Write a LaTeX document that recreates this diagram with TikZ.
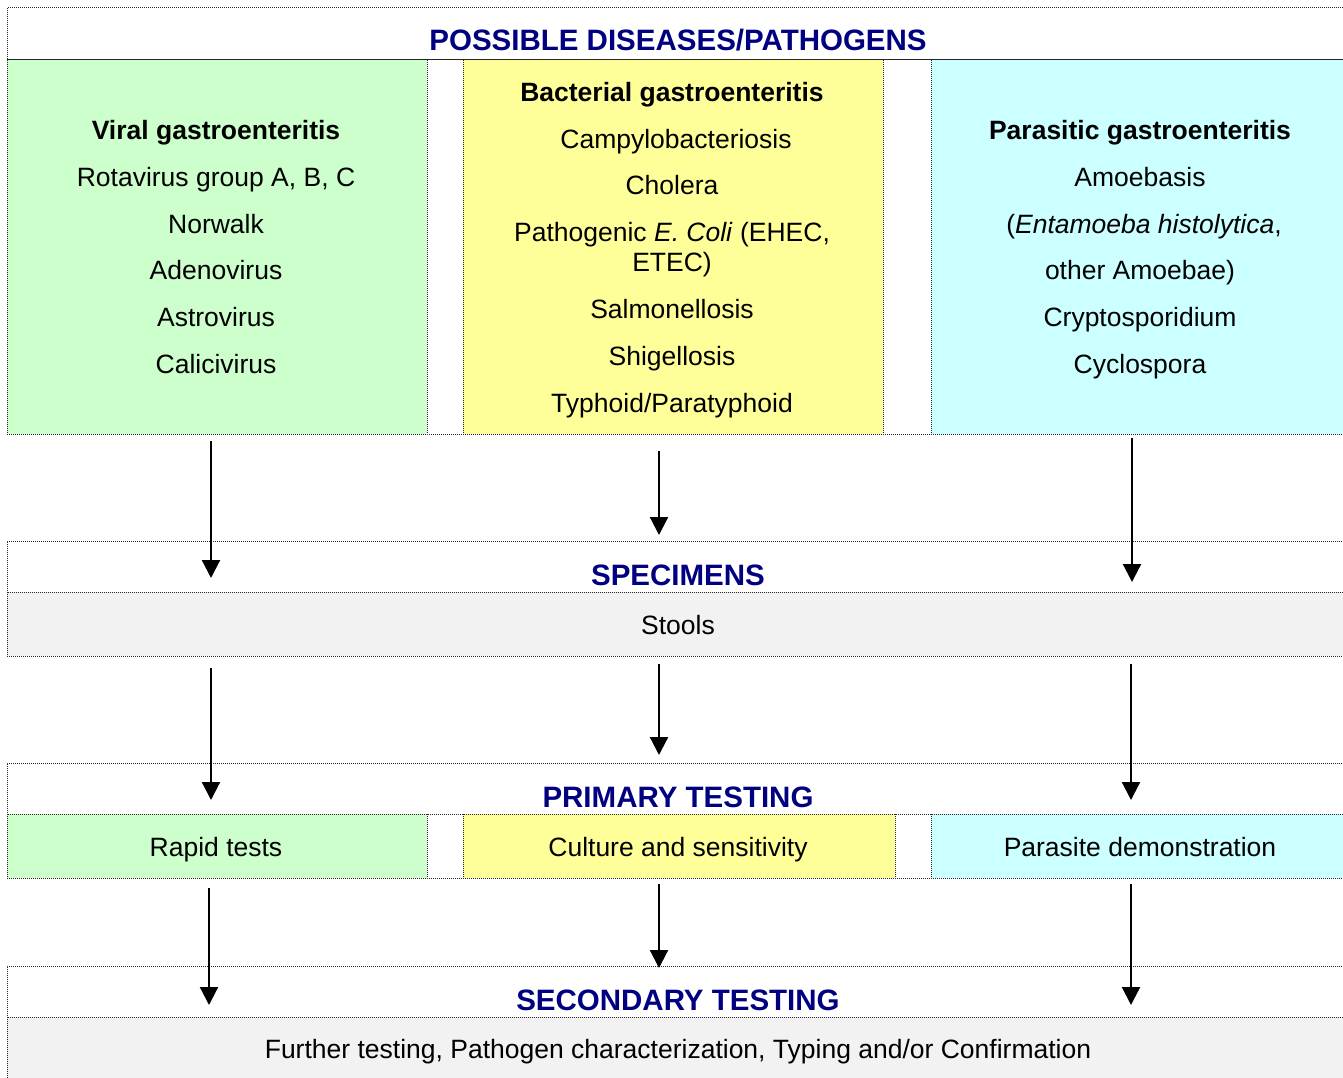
\documentclass[tikz,border=0pt]{standalone}
\usepackage{fontspec}
\setmainfont{Liberation Sans}
\usetikzlibrary{arrows.meta}

\definecolor{viralgreen}{HTML}{CCFFCC}
\definecolor{bactyellow}{HTML}{FFFF99}
\definecolor{paracyan}{HTML}{CCFFFF}
\definecolor{bandgray}{HTML}{F2F2F2}
\definecolor{titlenavy}{HTML}{000080}

\tikzset{
  cell/.style={draw=black!85, line width=1pt, dash pattern=on 1pt off 1pt,
    rectangle, anchor=north west, inner sep=0pt, outer sep=0pt},
  body/.style={anchor=base, inner sep=0pt, text=black,
    font=\fontsize{26.5}{30}\selectfont},
  heading/.style={anchor=base, inner sep=0pt, text=titlenavy,
    font=\fontsize{29.5}{33}\selectfont\bfseries},
  arr/.style={line width=2.2pt, -{Triangle[width=18pt,length=18pt]}},
}

\begin{document}
\begin{tikzpicture}[x=1pt,y=-1pt]
\useasboundingbox (0,0) rectangle (1343,1078);
\fill[white] (0,0) rectangle (1343,1078);

% ---- possible diseases / pathogens ----
\node[cell, fill=white, minimum width=1345pt, minimum height=52pt] (hdrA) at (7,8) {};
\node[heading] (tA) at (678,51) {POSSIBLE DISEASES/PATHOGENS};

\node[cell, fill=viralgreen, minimum width=420pt, minimum height=374pt] (viral) at (7,60) {};
\node[cell, fill=white, minimum width=36pt, minimum height=374pt] (gapA1) at (427,60) {};
\node[cell, fill=bactyellow, minimum width=420pt, minimum height=374pt] (bact) at (463,60) {};
\node[cell, fill=white, minimum width=48pt, minimum height=374pt] (gapA2) at (883,60) {};
\node[cell, fill=paracyan, minimum width=421pt, minimum height=374pt] (para) at (931,60) {};

% viral column
\node[body, font=\fontsize{26.5}{30}\selectfont\bfseries] (v0) at (216,139.5) {Viral gastroenteritis};
\node[body] (v1) at (216,186.5) {Rotavirus group A, B, C};
\node[body] (v2) at (216,233.5) {Norwalk};
\node[body] (v3) at (216,279.5) {Adenovirus};
\node[body] (v4) at (216,326.5) {Astrovirus};
\node[body] (v5) at (216,373.5) {Calicivirus};

% bacterial column
\node[body, font=\fontsize{26.5}{30}\selectfont\bfseries] (b0) at (672,101.5) {Bacterial gastroenteritis};
\node[body] (b1) at (676,148.5) {Campylobacteriosis};
\node[body] (b2) at (672,194.5) {Cholera};
\node[body] (b3) at (672,241.5) {Pathogenic \textit{E. Coli} (EHEC,};
\node[body] (b3b) at (672,271.5) {ETEC)};
\node[body] (b4) at (672,318.5) {Salmonellosis};
\node[body] (b5) at (672,365.5) {Shigellosis};
\node[body] (b6) at (672,412.5) {Typhoid/Paratyphoid};

% parasitic column
\node[body, font=\fontsize{26.5}{30}\selectfont\bfseries] (p0) at (1140,139.5) {Parasitic gastroenteritis};
\node[body] (p1) at (1140,186.5) {Amoebasis};
\node[body] (p2) at (1144,233.5) {(\textit{Entamoeba histolytica},};
\node[body] (p3) at (1140,279.5) {other Amoebae)};
\node[body] (p4) at (1140,326.5) {Cryptosporidium};
\node[body] (p5) at (1140,373.5) {Cyclospora};

% ---- specimens ----
\node[cell, fill=white, minimum width=1345pt, minimum height=51pt] (hdrB) at (7,541) {};
\node[heading] (tB) at (678,585) {SPECIMENS};
\node[cell, fill=bandgray, minimum width=1345pt, minimum height=64pt] (spec) at (7,592) {};
\node[body] (stools) at (678,634.5) {Stools};

% ---- primary testing ----
\node[cell, fill=white, minimum width=1345pt, minimum height=51pt] (hdrC) at (7,763) {};
\node[heading] (tC) at (678,807) {PRIMARY TESTING};
\node[cell, fill=viralgreen, minimum width=420pt, minimum height=64pt] (rapid) at (7,814) {};
\node[cell, fill=white, minimum width=36pt, minimum height=64pt] (gapC1) at (427,814) {};
\node[cell, fill=bactyellow, minimum width=432pt, minimum height=64pt] (culture) at (463,814) {};
\node[cell, fill=white, minimum width=36pt, minimum height=64pt] (gapC2) at (895,814) {};
\node[cell, fill=paracyan, minimum width=421pt, minimum height=64pt] (demo) at (931,814) {};
\node[body] (r1) at (216,856.5) {Rapid tests};
\node[body] (c1) at (678,856.5) {Culture and sensitivity};
\node[body] (d1) at (1140,856.5) {Parasite demonstration};

% ---- secondary testing ----
\node[cell, fill=white, minimum width=1345pt, minimum height=51pt] (hdrD) at (7,966) {};
\node[heading] (tD) at (678,1010) {SECONDARY TESTING};
\node[cell, fill=bandgray, minimum width=1345pt, minimum height=70pt] (further) at (7,1017) {};
\node[body] (f1) at (678,1058.5) {Further testing, Pathogen characterization, Typing and/or Confirmation};

% ---- arrow end points ----
\coordinate (l1s) at (211,441);  \coordinate (l1e) at (211,578);
\coordinate (m1s) at (659,451);  \coordinate (m1e) at (659,535);
\coordinate (r1s) at (1132,438); \coordinate (r1e) at (1132,582);
\coordinate (l2s) at (211,668);  \coordinate (l2e) at (211,800);
\coordinate (m2s) at (659,664);  \coordinate (m2e) at (659,755);
\coordinate (r2s) at (1131,664); \coordinate (r2e) at (1131,800);
\coordinate (l3s) at (209,888);  \coordinate (l3e) at (209,1005);
\coordinate (m3s) at (659,884);  \coordinate (m3e) at (659,968);
\coordinate (r3s) at (1131,884); \coordinate (r3e) at (1131,1005);

\draw[arr] (l1s) -- (l1e);
\draw[arr] (m1s) -- (m1e);
\draw[arr] (r1s) -- (r1e);
\draw[arr] (l2s) -- (l2e);
\draw[arr] (m2s) -- (m2e);
\draw[arr] (r2s) -- (r2e);
\draw[arr] (l3s) -- (l3e);
\draw[arr] (m3s) -- (m3e);
\draw[arr] (r3s) -- (r3e);
\end{tikzpicture}
\end{document}
